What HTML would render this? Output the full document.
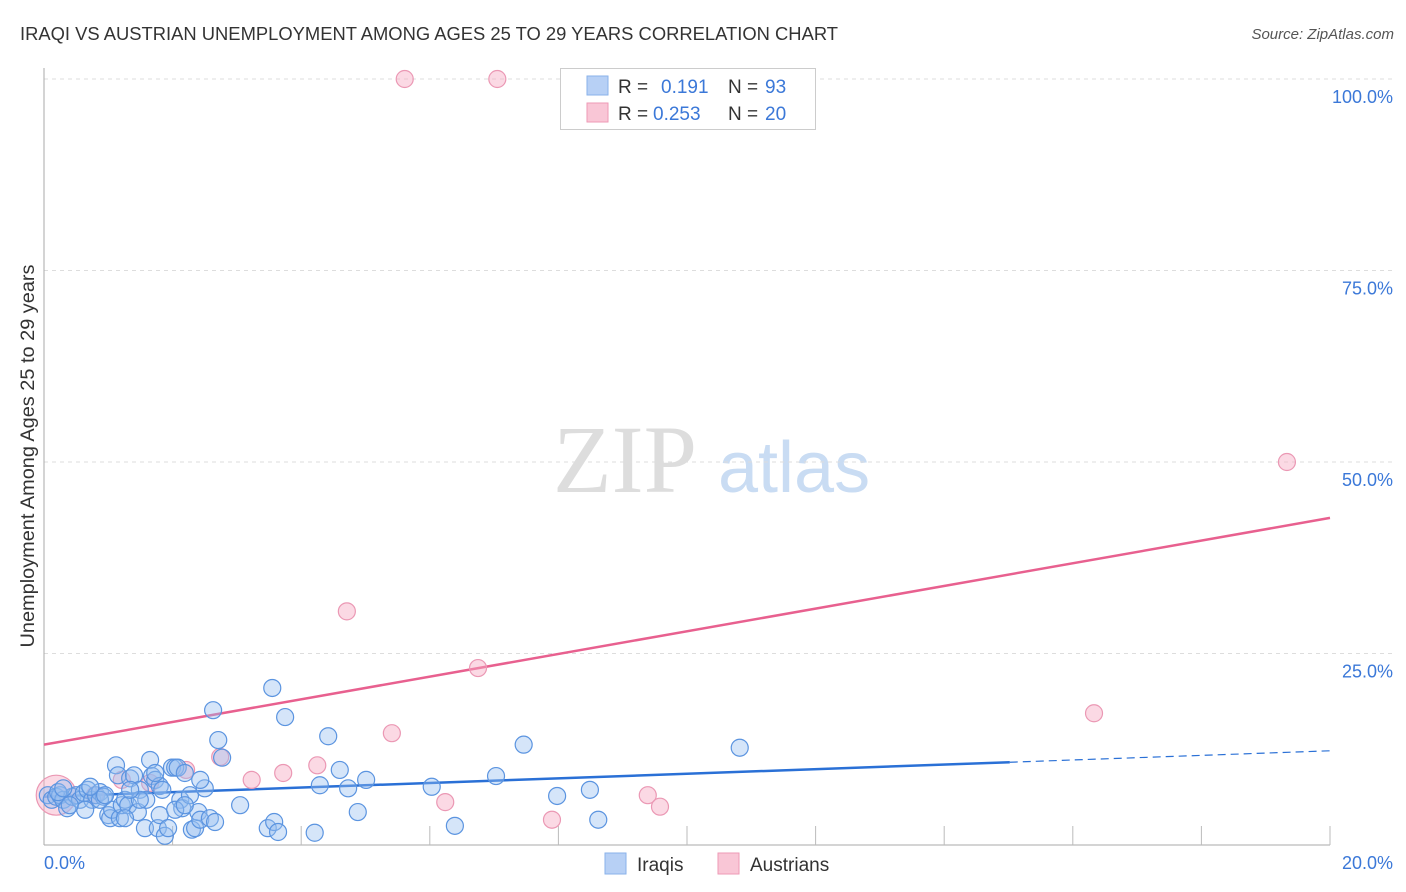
<!DOCTYPE html>
<html><head><meta charset="utf-8"><style>
body{margin:0;background:#fff;font-family:"Liberation Sans",sans-serif;}
svg{display:block}
</style></head><body>
<svg id="chart" width="1406" height="892" xmlns="http://www.w3.org/2000/svg">
<text x="20" y="40" font-size="18" fill="#333" textLength="818" lengthAdjust="spacingAndGlyphs">IRAQI VS AUSTRIAN UNEMPLOYMENT AMONG AGES 25 TO 29 YEARS CORRELATION CHART</text>
<text x="1394" y="39" font-size="15" fill="#555" font-style="italic" text-anchor="end">Source: ZipAtlas.com</text>
<text x="0" y="0" transform="translate(34,456) rotate(-90)" font-size="19" fill="#333" text-anchor="middle" textLength="383" lengthAdjust="spacingAndGlyphs">Unemployment Among Ages 25 to 29 years</text>
<g>
<text x="553" y="492" font-family="Liberation Serif,serif" font-size="96" fill="#ddd">ZIP</text>
<text x="718" y="492" font-size="72" fill="#c9dcf3">atlas</text>
</g>
<g id="grid"></g><g id="axes"></g><g id="trends"></g><g id="pts"></g>
<g>
<rect x="560.5" y="68.5" width="255" height="61" fill="#fff" stroke="#ccc"/>
<rect x="587" y="76" width="21" height="19" fill="#b7d0f5" stroke="#8ab2ea"/>
<text x="618" y="93" font-size="19" fill="#333">R =</text><text x="661" y="93" font-size="19" fill="#3b78d8">0.191</text>
<text x="728" y="93" font-size="19" fill="#333">N =</text><text x="765" y="93" font-size="19" fill="#3b78d8">93</text>
<rect x="587" y="103" width="21" height="19" fill="#f9c6d6" stroke="#ee9ab6"/>
<text x="618" y="120" font-size="19" fill="#333">R =</text><text x="653" y="120" font-size="19" fill="#3b78d8">0.253</text>
<text x="728" y="120" font-size="19" fill="#333">N =</text><text x="765" y="120" font-size="19" fill="#3b78d8">20</text>
</g>
<g>
<rect x="605" y="853" width="21" height="21" fill="#b7d0f5" stroke="#8ab2ea"/>
<text x="637" y="871" font-size="19" fill="#333">Iraqis</text>
<rect x="718" y="853" width="21" height="21" fill="#f9c6d6" stroke="#ee9ab6"/>
<text x="750" y="871" font-size="19" fill="#333">Austrians</text>
</g>
</svg>
<script>
const yTicks=[25,50,75,100];
const yTickLabels=["25.0%","50.0%","75.0%","100.0%"];
const xTicks=[2,4,6,8,10,12,14,16,18,20];
const iraqiX=[.06,.12,.19,.25,.30,.36,.44,.50,.56,.62,.68,.75,.81,.87,.93,1.0,1.03,1.06,1.12,1.15,1.18,1.21,1.26,1.31,1.34,1.40,1.46,1.49,1.57,1.59,1.65,1.68,1.73,1.77,1.80,1.88,1.93,1.99,2.04,2.08,2.12,2.15,2.19,2.27,2.30,2.35,2.40,2.43,2.50,2.58,2.63,2.66,2.71,2.77,3.05,3.48,3.55,3.58,3.64,3.75,4.21,4.29,4.42,4.60,4.73,4.88,5.01,6.03,6.39,7.03,7.46,7.98,8.49,8.62,10.82,1.80,1.49,.87,.64,.40,1.26,.22,2.04,.95,.72,1.34,1.84,2.19,1.73,2.43,.30];
const iraqiY=[6.5,5.9,6.3,6.5,5.9,4.8,6.3,6.5,5.9,6.8,7.2,5.9,6.5,6.9,6.3,3.9,3.5,4.6,10.4,9.1,3.5,5.2,5.9,5.2,8.7,9.1,4.3,7.2,2.2,5.9,11.1,9.0,8.5,2.2,3.9,1.2,2.2,10.1,10.1,10.1,5.9,4.8,9.4,6.5,2.0,2.2,4.3,3.3,7.4,3.5,17.6,3.0,13.7,11.4,5.2,2.2,20.5,3.0,1.7,16.7,1.6,7.8,14.2,9.8,7.4,4.3,8.5,7.6,2.5,9.0,13.1,6.4,7.2,3.3,12.7,7.7,5.9,5.9,4.6,5.2,3.5,6.9,4.6,6.5,7.6,7.2,7.2,5.2,9.4,8.5,7.4];
const austX=[.19,5.61,7.05,19.33,4.71,6.75,5.41,16.33,2.74,3.23,3.72,4.25,6.24,7.90,9.39,9.58,.79,1.21,2.21,1.65];
const austY=[6.5,100,100,50,30.5,23.1,14.6,17.2,11.5,8.5,9.4,10.4,5.6,3.3,6.5,5.0,6.5,8.5,9.8,8.1];
const iraqiTrend=[6.3,12.3];
const austTrend=[13.1,42.7];
const NS="http://www.w3.org/2000/svg";
const X=v=>44+v*64.3, Y=v=>845-v*7.66;
function mk(t,a,p){const e=document.createElementNS(NS,t);for(const k in a)e.setAttribute(k,a[k]);document.getElementById(p).appendChild(e);return e;}
yTicks.forEach((t,i)=>{
 const g=mk('line',{x1:44,x2:1392,y1:Y(t),y2:Y(t),stroke:'#ddd','stroke-dasharray':'4,4'},'grid');
 
 
 const l=mk('text',{x:1393,y:Y(t)+24,'font-size':18,fill:'#3b78d8','text-anchor':'end'},'grid');
 l.textContent=yTickLabels[i];
 
 
});
const ya=mk('line',{x1:44,x2:44,y1:68,y2:845,stroke:'#aaa'},'axes');


const xa=mk('line',{x1:44,x2:1330,y1:845,y2:845,stroke:'#aaa'},'axes');


xTicks.forEach(t=>{const k=mk('line',{x1:X(t),x2:X(t),y1:826,y2:845,stroke:'#bbb'},'axes');
 
 });
const x0=mk('text',{x:44,y:869,'font-size':18,fill:'#3b78d8'},'axes');x0.textContent='0.0%';


const x1=mk('text',{x:1393,y:869,'font-size':18,fill:'#3b78d8','text-anchor':'end'},'axes');x1.textContent='20.0%';


austX.forEach((x,i)=>{const c=mk('circle',{cx:X(x),cy:Y(austY[i]),r:i==0?20:8.5,fill:'rgba(246,170,196,0.45)',stroke:'#eb98b4','stroke-width':1.2},'pts');
 
 });
iraqiX.forEach((x,i)=>{const c=mk('circle',{cx:X(x),cy:Y(iraqiY[i]),r:8.5,fill:'rgba(150,190,240,0.4)',stroke:'#5b94e0','stroke-width':1.2},'pts');
 
 });
const bs=iraqiTrend[0]+(iraqiTrend[1]-iraqiTrend[0])*15.02/20;
const t1=mk('line',{x1:X(0),y1:Y(iraqiTrend[0]),x2:X(15.02),y2:Y(bs),stroke:'#2a70d6','stroke-width':2.5},'trends');


const t2=mk('line',{x1:X(15.02),y1:Y(bs),x2:X(20),y2:Y(iraqiTrend[1]),stroke:'#2a70d6','stroke-width':1.2,'stroke-dasharray':'8,5'},'trends');


const t3=mk('line',{x1:X(0),y1:Y(austTrend[0]),x2:X(20),y2:Y(austTrend[1]),stroke:'#e8608f','stroke-width':2.5},'trends');


</script>
</body></html>
